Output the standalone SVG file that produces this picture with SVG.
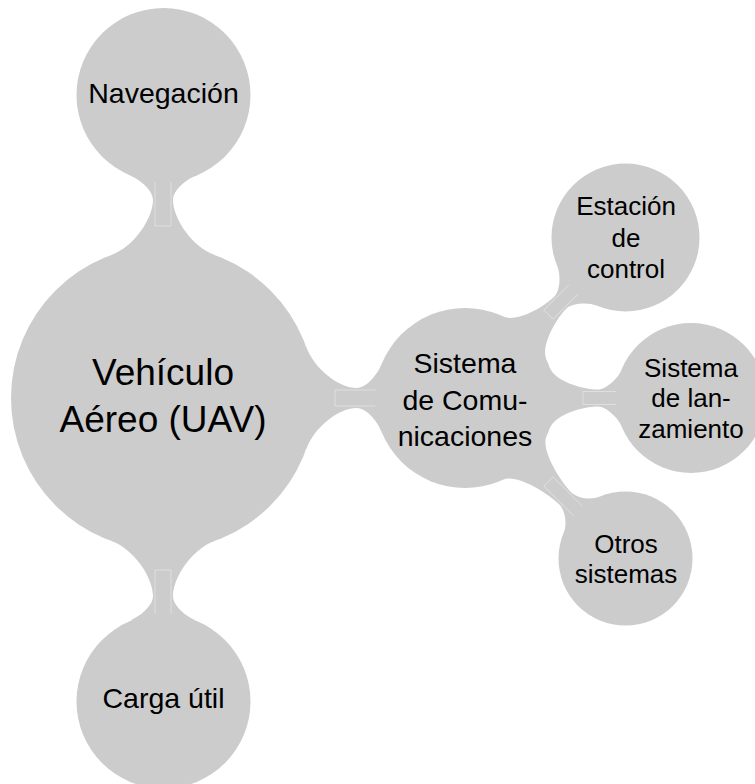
<svg xmlns="http://www.w3.org/2000/svg" width="755" height="784" viewBox="0 0 755 784">
<style>
.c{fill:#cccccc}
.bar{fill:none;stroke:#ffffff;stroke-opacity:.55;stroke-width:.7}
text{font-family:"Liberation Sans",Arial,Helvetica,sans-serif;fill:#000;text-anchor:middle}
.t0{font-size:37px}
.t1{font-size:28.5px}
.t2{font-size:26px}
</style>
<defs>
<path id="L1a" d="M 142.83,51.99 C 151.4,28.5 180,10 198,10 C 208,10 218.6,23.3 222.33,32.59 L 222.33,-32.59 C 218.6,-23.3 208,-10 198,-10 C 180,-10 151.4,-28.5 142.83,-51.99 Z"/>
<path id="bar1" d="M 216,-8 L 172,-8 L 172,8 L 216,8"/>
<path id="bar2" d="M 160,-6.5 L 118,-6.5 L 118,6.5 L 160,6.5"/>
</defs>
<rect width="755" height="784" fill="#ffffff"/>
<g id="connectors">
  <g transform="translate(163,398) rotate(-90)">
    <use href="#L1a" class="c"/><use href="#bar1" class="bar"/>
  </g>
  <g transform="translate(163,398) rotate(90)">
    <use href="#L1a" class="c"/><use href="#bar1" class="bar"/>
  </g>
  <g transform="translate(163,398)">
    <path class="c" d="M 142.83,51.99 C 151.4,28.5 176,10 194,10 C 204,10 214.8,24.4 218.55,33.71 L 218.55,-33.71 C 214.8,-24.4 204,-10 194,-10 C 176,-10 151.4,-28.5 142.83,-51.99 Z"/>
    <use href="#bar1" class="bar"/>
  </g>
  <g transform="translate(465,398) rotate(-45)">
    <path class="c" d="M 84.57,30.78 C 89.7,16.7 120,8.5 135,8.5 C 143,8.5 155,19.4 158.39,27.72 L 158.39,-27.72 C 155,-19.4 143,-8.5 135,-8.5 C 120,-8.5 89.7,-16.7 84.57,-30.78 Z"/>
    <use href="#bar2" class="bar"/>
  </g>
  <g transform="translate(465,398)">
    <path class="c" d="M 84.57,30.78 C 89.7,16.7 118,8.5 133,8.5 C 141,8.5 153.1,19.8 156.46,28.1 L 156.46,-28.1 C 153.1,-19.8 141,-8.5 133,-8.5 C 118,-8.5 89.7,-16.7 84.57,-30.78 Z"/>
    <use href="#bar2" class="bar"/>
  </g>
  <g transform="translate(465,398) rotate(45)">
    <path class="c" d="M 84.57,30.78 C 89.7,16.7 127,8.5 142,8.5 C 150,8.5 161.5,16.8 164.88,25.1 L 164.88,-25.1 C 161.5,-16.8 150,-8.5 142,-8.5 C 127,-8.5 89.7,-16.7 84.57,-30.78 Z"/>
    <use href="#bar2" class="bar"/>
  </g>
</g>
<g id="uav">
  <circle class="c" cx="163" cy="398" r="152"/>
  <text class="t0" x="163" y="385">Vehículo</text>
  <text class="t0" x="163" y="432">Aéreo (UAV)</text>
</g>
<g id="navegacion">
  <circle class="c" cx="163.5" cy="95" r="87"/>
  <text class="t1" x="163.5" y="103">Navegación</text>
</g>
<g id="carga">
  <circle class="c" cx="163.5" cy="701.5" r="87"/>
  <text class="t1" x="163.5" y="708">Carga útil</text>
</g>
<g id="comunicaciones">
  <circle class="c" cx="465" cy="398" r="90"/>
  <text class="t1" x="465" y="373">Sistema</text>
  <text class="t1" x="465" y="410">de Comu-</text>
  <text class="t1" x="465" y="446">nicaciones</text>
</g>
<g id="estacion">
  <circle class="c" cx="625.5" cy="237.5" r="74"/>
  <text class="t2" x="626" y="215">Estación</text>
  <text class="t2" x="626" y="247">de</text>
  <text class="t2" x="626" y="278">control</text>
</g>
<g id="lanzamiento">
  <circle class="c" cx="691" cy="398" r="75"/>
  <text class="t2" x="691" y="377">Sistema</text>
  <text class="t2" x="691" y="407">de lan-</text>
  <text class="t2" x="691" y="438">zamiento</text>
</g>
<g id="otros">
  <circle class="c" cx="625.5" cy="558.5" r="67"/>
  <text class="t2" x="626" y="553">Otros</text>
  <text class="t2" x="626" y="583">sistemas</text>
</g>
</svg>
